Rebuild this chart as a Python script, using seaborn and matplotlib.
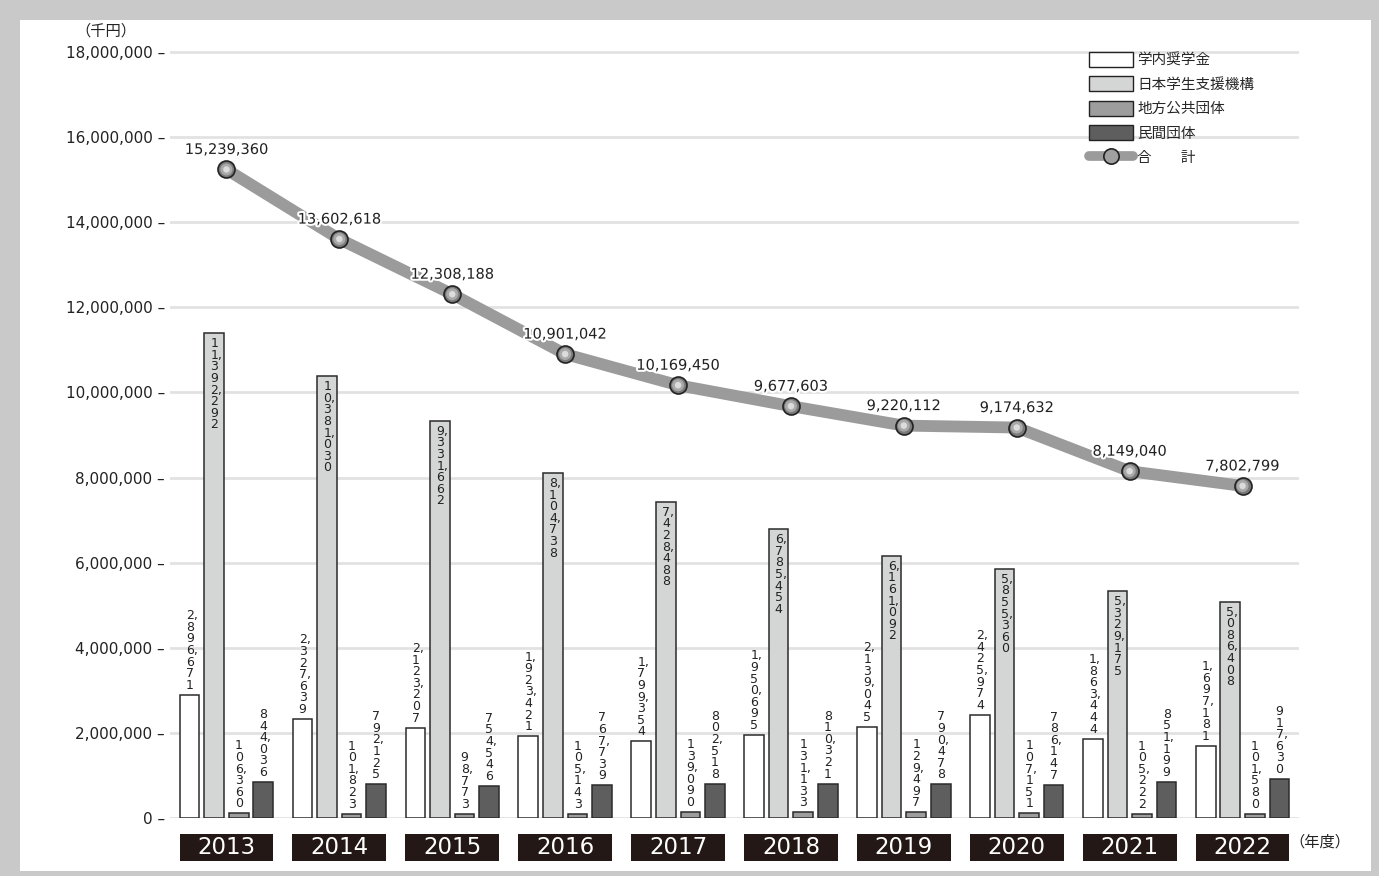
import numpy as np
import pandas as pd
import matplotlib
matplotlib.use('Agg')
import matplotlib.pyplot as plt
import matplotlib.patheffects as pe
from matplotlib.patches import Patch, Rectangle
from matplotlib.lines import Line2D
import seaborn as sns

# data (千円)
years = ['2013', '2014', '2015', '2016', '2017', '2018', '2019', '2020', '2021', '2022']
kinds = ['学内奨学金', '日本学生支援機構', '地方公共団体', '民間団体']
gakunai = [2896671, 2327639, 2123207, 1923421, 1799354, 1950695, 2139045, 2425974, 1863444, 1697181]
jasso = [11392292, 10381030, 9331662, 8104738, 7428488, 6785454, 6161092, 5855360, 5329175, 5086408]
chiho = [106360, 101823, 98773, 105143, 139090, 131133, 129497, 107151, 105222, 101580]
minkan = [844036, 792125, 754546, 767739, 802518, 810321, 790478, 786147, 851199, 917630]
totals = [15239360, 13602618, 12308188, 10901042, 10169450, 9677603, 9220112, 9174632, 8149040, 7802799]
yticks = [0, 2000000, 4000000, 6000000, 8000000, 10000000, 12000000, 14000000, 16000000, 18000000]

colors = ['#ffffff', '#d4d5d5', '#9d9d9d', '#5e5e5e']
W, H = 1379, 876
PX = 0.72  # points per pixel at dpi 100

sns.set_theme(style='white')
plt.rcParams['font.family'] = ['DejaVu Sans', 'Noto Sans CJK JP']

df = pd.DataFrame({
    'year': years * 4,
    'kind': np.repeat(kinds, len(years)),
    'value': gakunai + jasso + chiho + minkan,
})

fig = plt.figure(figsize=(W / 100, H / 100), dpi=100)
fig.patch.set_facecolor('#c9c9c9')
fig.add_artist(Rectangle((20 / W, 5 / H), 1351 / W, 851 / H, transform=fig.transFigure,
                         facecolor='white', edgecolor='none', zorder=0))

ax = fig.add_axes([170 / W, 58 / H, 1129 / W, 770.3 / H])
ax.set_facecolor('none')

sns.barplot(data=df, x='year', y='value', hue='kind', hue_order=kinds,
            palette=dict(zip(kinds, colors)), width=0.87, gap=0.2, saturation=1,
            edgecolor='#2b2b2b', linewidth=1.1, errorbar=None, legend=False, ax=ax, zorder=2)


def vertical_text(v):
    # one digit per line, comma stuck to the digit before it
    lines = []
    for ch in f'{v:,}':
        if ch == ',':
            lines[-1] += ','
        else:
            lines.append(ch)
    return '\n'.join(lines)


series = [gakunai, jasso, chiho, minkan]
for k, cont in enumerate(ax.containers):
    for bar, v in zip(cont, series[k]):
        bx = bar.get_x() + bar.get_width() / 2
        inside = (k == 1)
        ax.annotate(vertical_text(v), xy=(bx, bar.get_height()),
                    xytext=(2.2 * PX, (-4 if inside else 3) * PX), textcoords='offset points',
                    ha='center', va='top' if inside else 'bottom', multialignment='left',
                    linespacing=0.86, fontsize=9, color='#222222', zorder=6)

# total line with sphere-like markers
xs = np.arange(len(years))
sns.lineplot(x=xs, y=totals, color='#9b9b9b', lw=8.5, ax=ax, zorder=3)
ax.scatter(xs, totals, s=150, facecolor='#7a7a7a', edgecolor='#222222', linewidth=1.2, zorder=4)
ax.scatter(xs, totals, s=75, facecolor='#a9a9a9', edgecolor='none', zorder=4)
ax.scatter(xs, totals, s=22, facecolor='#dcdcdc', edgecolor='none', zorder=4)
for x, t in zip(xs, totals):
    ax.annotate(f'{t:,}', xy=(x, t), xytext=(0, 20 * PX), textcoords='offset points',
                ha='center', va='center', fontsize=10.5, color='#222222', zorder=5,
                path_effects=[pe.withStroke(linewidth=3, foreground='white')])

ax.set_xlim(-0.5, len(years) - 0.5)
ax.set_ylim(0, 18100000)
ax.set_yticks(yticks)
ax.set_yticklabels([f'{v:,} –' for v in yticks], fontsize=11, color='#222222')
ax.tick_params(axis='y', length=0, pad=5 * PX)
ax.tick_params(axis='x', length=0, labelbottom=False)
ax.yaxis.grid(True, color='#e2e2e2', linewidth=2)
ax.set_axisbelow(True)
for s in ax.spines.values():
    s.set_visible(False)
ax.set_xlabel('')
ax.set_ylabel('')

# year boxes below the axis
tr = ax.get_xaxis_transform()
for i, y in enumerate(years):
    ax.add_patch(Rectangle((i - 0.415, -43 / 770.3), 0.83, 27 / 770.3, transform=tr,
                           facecolor='#231815', edgecolor='none', clip_on=False, zorder=5))
    ax.text(i, -29.5 / 770.3, y, transform=tr, ha='center', va='center', fontsize=16.5,
            color='white', zorder=6, clip_on=False)

fig.text(106 / W, 1 - 31 / H, '（千円）', ha='center', va='center', fontsize=11, color='#222222')
fig.text(1320 / W, 1 - 842 / H, '（年度）', ha='center', va='center', fontsize=11, color='#222222')

handles = [Patch(facecolor=c, edgecolor='#222222', linewidth=1) for c in colors]
handles.append(Line2D([], [], color='#9b9b9b', lw=7, marker='o', ms=11,
                      mfc='#a0a0a0', mec='#222222', mew=1.2))
labels = kinds + ['合　　計']
ax.legend(handles, labels, loc='upper left', bbox_to_anchor=(1089 / W, 1 - 52 / H),
          bbox_transform=fig.transFigure, frameon=False, fontsize=10.5, handlelength=3.0,
          handleheight=1.2, labelspacing=0.62, handletextpad=0.3, borderaxespad=0,
          borderpad=0)

fig.savefig('out.png', dpi=100, facecolor=fig.get_facecolor())
